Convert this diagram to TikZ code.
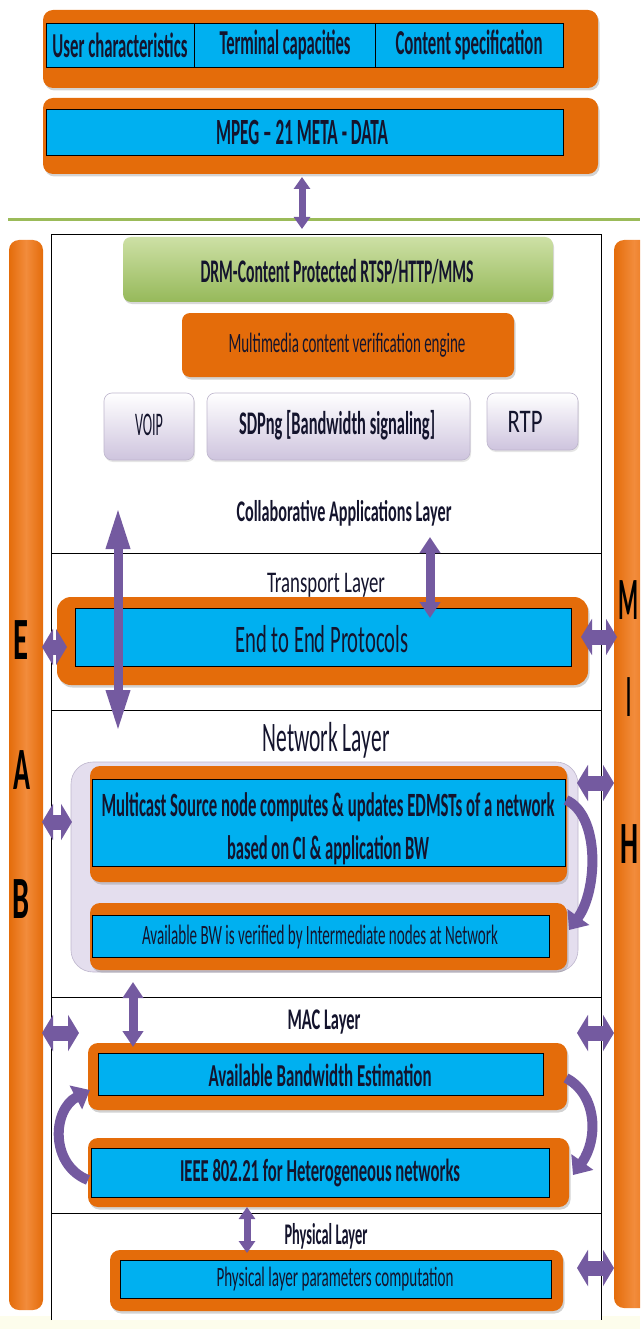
\documentclass[tikz,border=0pt]{standalone}
\usepackage{fontspec}
\setmainfont{Carlito}
\usepackage{graphicx}
\usetikzlibrary{arrows.meta,shadows}
\definecolor{orng}{RGB}{228,108,10}
\definecolor{orngl}{RGB}{242,140,60}
\definecolor{cyanb}{RGB}{0,176,240}
\definecolor{purp}{RGB}{116,90,160}
\definecolor{grnl}{RGB}{205,224,165}
\definecolor{grnd}{RGB}{150,185,90}
\definecolor{lav}{RGB}{206,196,222}
\definecolor{lavl}{RGB}{228,222,238}
\definecolor{lavd}{RGB}{190,182,205}
\definecolor{txt}{RGB}{20,20,45}
\definecolor{gline}{RGB}{155,187,89}
\definecolor{cream}{RGB}{253,253,236}
\newcommand\fitt[3]{\resizebox{#1pt}{\height}{\fontsize{#2pt}{#2pt}\selectfont #3}}
\begin{document}
\begin{tikzpicture}[x=1pt,y=-1pt,
  box/.style={anchor=north west, inner sep=0pt, outer sep=0pt},
  obox/.style={box, fill=orng, rounded corners=10pt,
    drop shadow={opacity=0.35, shadow xshift=1.5pt, shadow yshift=-2.5pt}},
  strip/.style={box, fill=cyanb, draw=black, line width=0.9pt},
  lavbox/.style={box, top color=white, bottom color=lav, draw=lavd, line width=0.6pt, rounded corners=8pt,
    drop shadow={opacity=0.2, shadow xshift=1pt, shadow yshift=-2pt}},
  sidebar/.style={box, left color=orng, right color=orng, middle color=orngl, rounded corners=10pt},
  lbl/.style={inner sep=0pt, outer sep=0pt, text=txt},
  letter/.style={inner sep=0pt, outer sep=0pt, text=black},
  varr/.style={draw=purp, line width=9pt, {Triangle[width=20pt,length=16pt]}-{Triangle[width=20pt,length=16pt]}},
  larr/.style={draw=purp, line width=9pt, {Triangle[width=22pt,length=42pt]}-{Triangle[width=22pt,length=42pt]}},
  sarr/.style={draw=purp, line width=7pt, {Triangle[width=16pt,length=12pt]}-{Triangle[width=16pt,length=12pt]}},
  harr/.style={draw=purp, line width=15pt, {Triangle[width=36pt,length=11pt]}-{Triangle[width=36pt,length=11pt]}},
  carr/.style={draw=purp, line width=10pt, -{Triangle[width=26pt,length=16pt]}},
  frame/.style={draw=black, line width=0.8pt}
]
\useasboundingbox (0,0) rectangle (640,1329);
\clip (0,0) rectangle (640,1329);
\fill[cream] (0,1316) rectangle (640,1329);

% ---- top metadata boxes
\node[obox, minimum width=555pt, minimum height=78pt] (ob1) at (43,10) {};
\node[strip, minimum width=148pt, minimum height=44pt] (c1) at (46,23) {};
\node[strip, minimum width=181pt, minimum height=44pt] (c2) at (194,23) {};
\node[strip, minimum width=188pt, minimum height=44pt] (c3) at (375,23) {};
\node[lbl] (tUser) at (120,45) {\fitt{135}{35}{\bfseries User characteristics}};
\node[lbl] (tTerm) at (285,45) {\fitt{131}{35}{\bfseries Terminal capacities}};
\node[lbl] (tCont) at (469,45) {\fitt{147}{35}{\bfseries Content specification}};

\node[obox, minimum width=555pt, minimum height=76pt] (ob2) at (43,98) {};
\node[strip, minimum width=517pt, minimum height=46pt] (st2) at (46,109) {};
\node[lbl] (tMpeg) at (302,132) {\fitt{172}{37}{\bfseries MPEG – 21 META - DATA}};

\draw[gline, line width=3pt] (8,220) -- (640,220);

% ---- side bars
\node[sidebar, minimum width=34pt, minimum height=1070pt] (barL) at (9,240) {};
\node[sidebar, minimum width=40pt, minimum height=1068pt] (barR) at (614,240) {};
\node[letter] (lE) at (21,640) {\fitt{15}{60}{\bfseries E}};
\node[letter] (lA) at (22,770) {\fitt{17}{60}{\bfseries A}};
\node[letter] (lB) at (21,899) {\fitt{17}{60}{\bfseries B}};
\node[letter] (lM) at (628,600) {\fitt{20}{60}{\bfseries M}};
\node[letter] (lI) at (629,697) {\fitt{5}{60}{\bfseries I}};
\node[letter] (lH) at (629,844) {\fitt{18}{60}{\bfseries H}};

% ---- main frame
\fill[white] (51,234) rectangle (601,1320);
\draw[frame] (51,1320) -- (51,234) -- (601,234) -- (601,1320);
\draw[frame] (51,553) -- (601,553);
\draw[frame] (51,710) -- (601,710);
\draw[frame] (51,997) -- (601,997);
\draw[frame] (51,1213) -- (601,1213);

% ---- application layer
\node[box, top color=grnl, bottom color=grnd, rounded corners=8pt, minimum width=430pt, minimum height=65pt,
  drop shadow={opacity=0.3, shadow xshift=1pt, shadow yshift=-2pt}] (drm) at (123,237) {};
\node[lbl] (tDrm) at (337,272) {\fitt{273}{33}{\bfseries DRM-Content Protected RTSP/HTTP/MMS}};
\node[obox, rounded corners=8pt, minimum width=332pt, minimum height=64pt] (mme) at (182,313) {};
\node[lbl] (tMme) at (347,345) {\fitt{237}{28}{Multimedia content verification engine}};
\node[lavbox, minimum width=90pt, minimum height=67pt] (voip) at (104,393) {};
\node[lavbox, minimum width=263pt, minimum height=67pt] (sdp) at (207,393) {};
\node[lavbox, minimum width=91pt, minimum height=57pt] (rtp) at (487,393) {};
\node[lbl] (tVoip) at (149,425) {\fitt{28}{33}{VOIP}};
\node[lbl] (tSdp) at (337,425) {\fitt{196}{33}{\bfseries SDPng [Bandwidth signaling]}};
\node[lbl] (tRtp) at (525,422) {\fitt{35}{33}{RTP}};
\node[lbl] (tColl) at (344,513) {\fitt{215}{30}{\bfseries Collaborative Applications Layer}};

% ---- transport layer
\node[lbl] (tTrans) at (326,585) {\fitt{118}{30}{Transport Layer}};
\node[obox, rounded corners=14pt, minimum width=531pt, minimum height=88pt] (tob) at (57,597) {};
\node[strip, minimum width=496pt, minimum height=58pt] (tst) at (75,608) {};
\node[lbl] (tE2E) at (322,639) {\fitt{173}{39}{End to End Protocols}};

% ---- network layer
\node[lbl] (tNet) at (326,740) {\fitt{127}{42}{Network Layer}};
\node[box, fill=lavl, draw=lavd, line width=0.6pt, rounded corners=22pt, minimum width=507pt, minimum height=210pt] (netc) at (71,762) {};
\node[obox, minimum width=477pt, minimum height=116pt] (nob1) at (90,766) {};
\node[strip, minimum width=473pt, minimum height=87pt] (nst1) at (92,779) {};
\node[lbl] (tMc1) at (328,807) {\fitt{453}{34}{\bfseries Multicast Source node computes \& updates EDMSTs of a network}};
\node[lbl] (tMc2) at (328,850) {\fitt{202}{34}{\bfseries based on CI \& application BW}};
\node[obox, minimum width=477pt, minimum height=67pt] (nob2) at (90,903) {};
\node[strip, minimum width=457pt, minimum height=42pt] (nst2) at (92,915) {};
\node[lbl] (tAvbw) at (320,937) {\fitt{356}{28}{Available BW is verified by Intermediate nodes at Network}};

% ---- MAC layer
\node[lbl] (tMac) at (324,1022) {\fitt{73}{30}{\bfseries MAC Layer}};
\node[obox, minimum width=479pt, minimum height=67pt] (mob1) at (88,1043) {};
\node[strip, minimum width=445pt, minimum height=42pt] (mst1) at (98,1053) {};
\node[lbl] (tAbe) at (320,1075) {\fitt{223}{32}{\bfseries Available Bandwidth Estimation}};
\node[obox, minimum width=481pt, minimum height=69pt] (mob2) at (88,1138) {};
\node[strip, minimum width=458pt, minimum height=49pt] (mst2) at (91,1148) {};
\node[lbl] (tIeee) at (320,1173) {\fitt{280}{32}{\bfseries IEEE 802.21 for Heterogeneous networks}};

% ---- physical layer
\node[lbl] (tPhy) at (326,1236) {\fitt{83}{30}{\bfseries Physical Layer}};
\node[obox, minimum width=453pt, minimum height=61pt] (pob) at (110,1250) {};
\node[strip, minimum width=431pt, minimum height=38pt] (pst) at (120,1260) {};
\node[lbl] (tPlp) at (335,1279) {\fitt{237}{28}{Physical layer parameters computation}};

% ---- arrow end points
\coordinate (a0s) at (302,177);  \coordinate (a0e) at (302,229);
\coordinate (a1s) at (118,507);  \coordinate (a1e) at (118,732);
\coordinate (a2s) at (430,537);  \coordinate (a2e) at (430,618);
\coordinate (a3s) at (133,982);  \coordinate (a3e) at (133,1047);
\coordinate (a4s) at (247,1207); \coordinate (a4e) at (247,1253);
\coordinate (hE1) at (42,647);   \coordinate (hE2) at (67,647);
\coordinate (hM1) at (581,637);  \coordinate (hM2) at (617,637);
\coordinate (hN1) at (577,783);  \coordinate (hN2) at (614,783);
\coordinate (hB1) at (42,822);   \coordinate (hB2) at (72,822);
\coordinate (hC1) at (42,1033);  \coordinate (hC2) at (79,1033);
\coordinate (hD1) at (577,1033); \coordinate (hD2) at (614,1033);
\coordinate (hP1) at (577,1268); \coordinate (hP2) at (614,1268);
\coordinate (cN1) at (566,800);  \coordinate (cN2) at (569,930);
\coordinate (cL1) at (88,1180);  \coordinate (cL2) at (90,1090);
\coordinate (cR1) at (566,1078); \coordinate (cR2) at (573,1175);

% ---- connectors
\draw[sarr] (a0s) -- (a0e);
\draw[larr] (a1s) -- (a1e);
\draw[varr] (a2s) -- (a2e);
\draw[varr] (a3s) -- (a3e);
\draw[sarr] (a4s) -- (a4e);
\draw[harr] (hE1) -- (hE2);
\draw[harr] (hM1) -- (hM2);
\draw[harr] (hN1) -- (hN2);
\draw[harr] (hB1) -- (hB2);
\draw[harr] (hC1) -- (hC2);
\draw[harr] (hD1) -- (hD2);
\draw[harr] (hP1) -- (hP2);
\draw[carr] (cN1) .. controls (600,815) and (598,890) .. (cN2);
\draw[carr] (cL1) .. controls (50,1165) and (52,1110) .. (cL2);
\draw[carr] (cR1) .. controls (598,1095) and (598,1140) .. (cR2);
\end{tikzpicture}
\end{document}
